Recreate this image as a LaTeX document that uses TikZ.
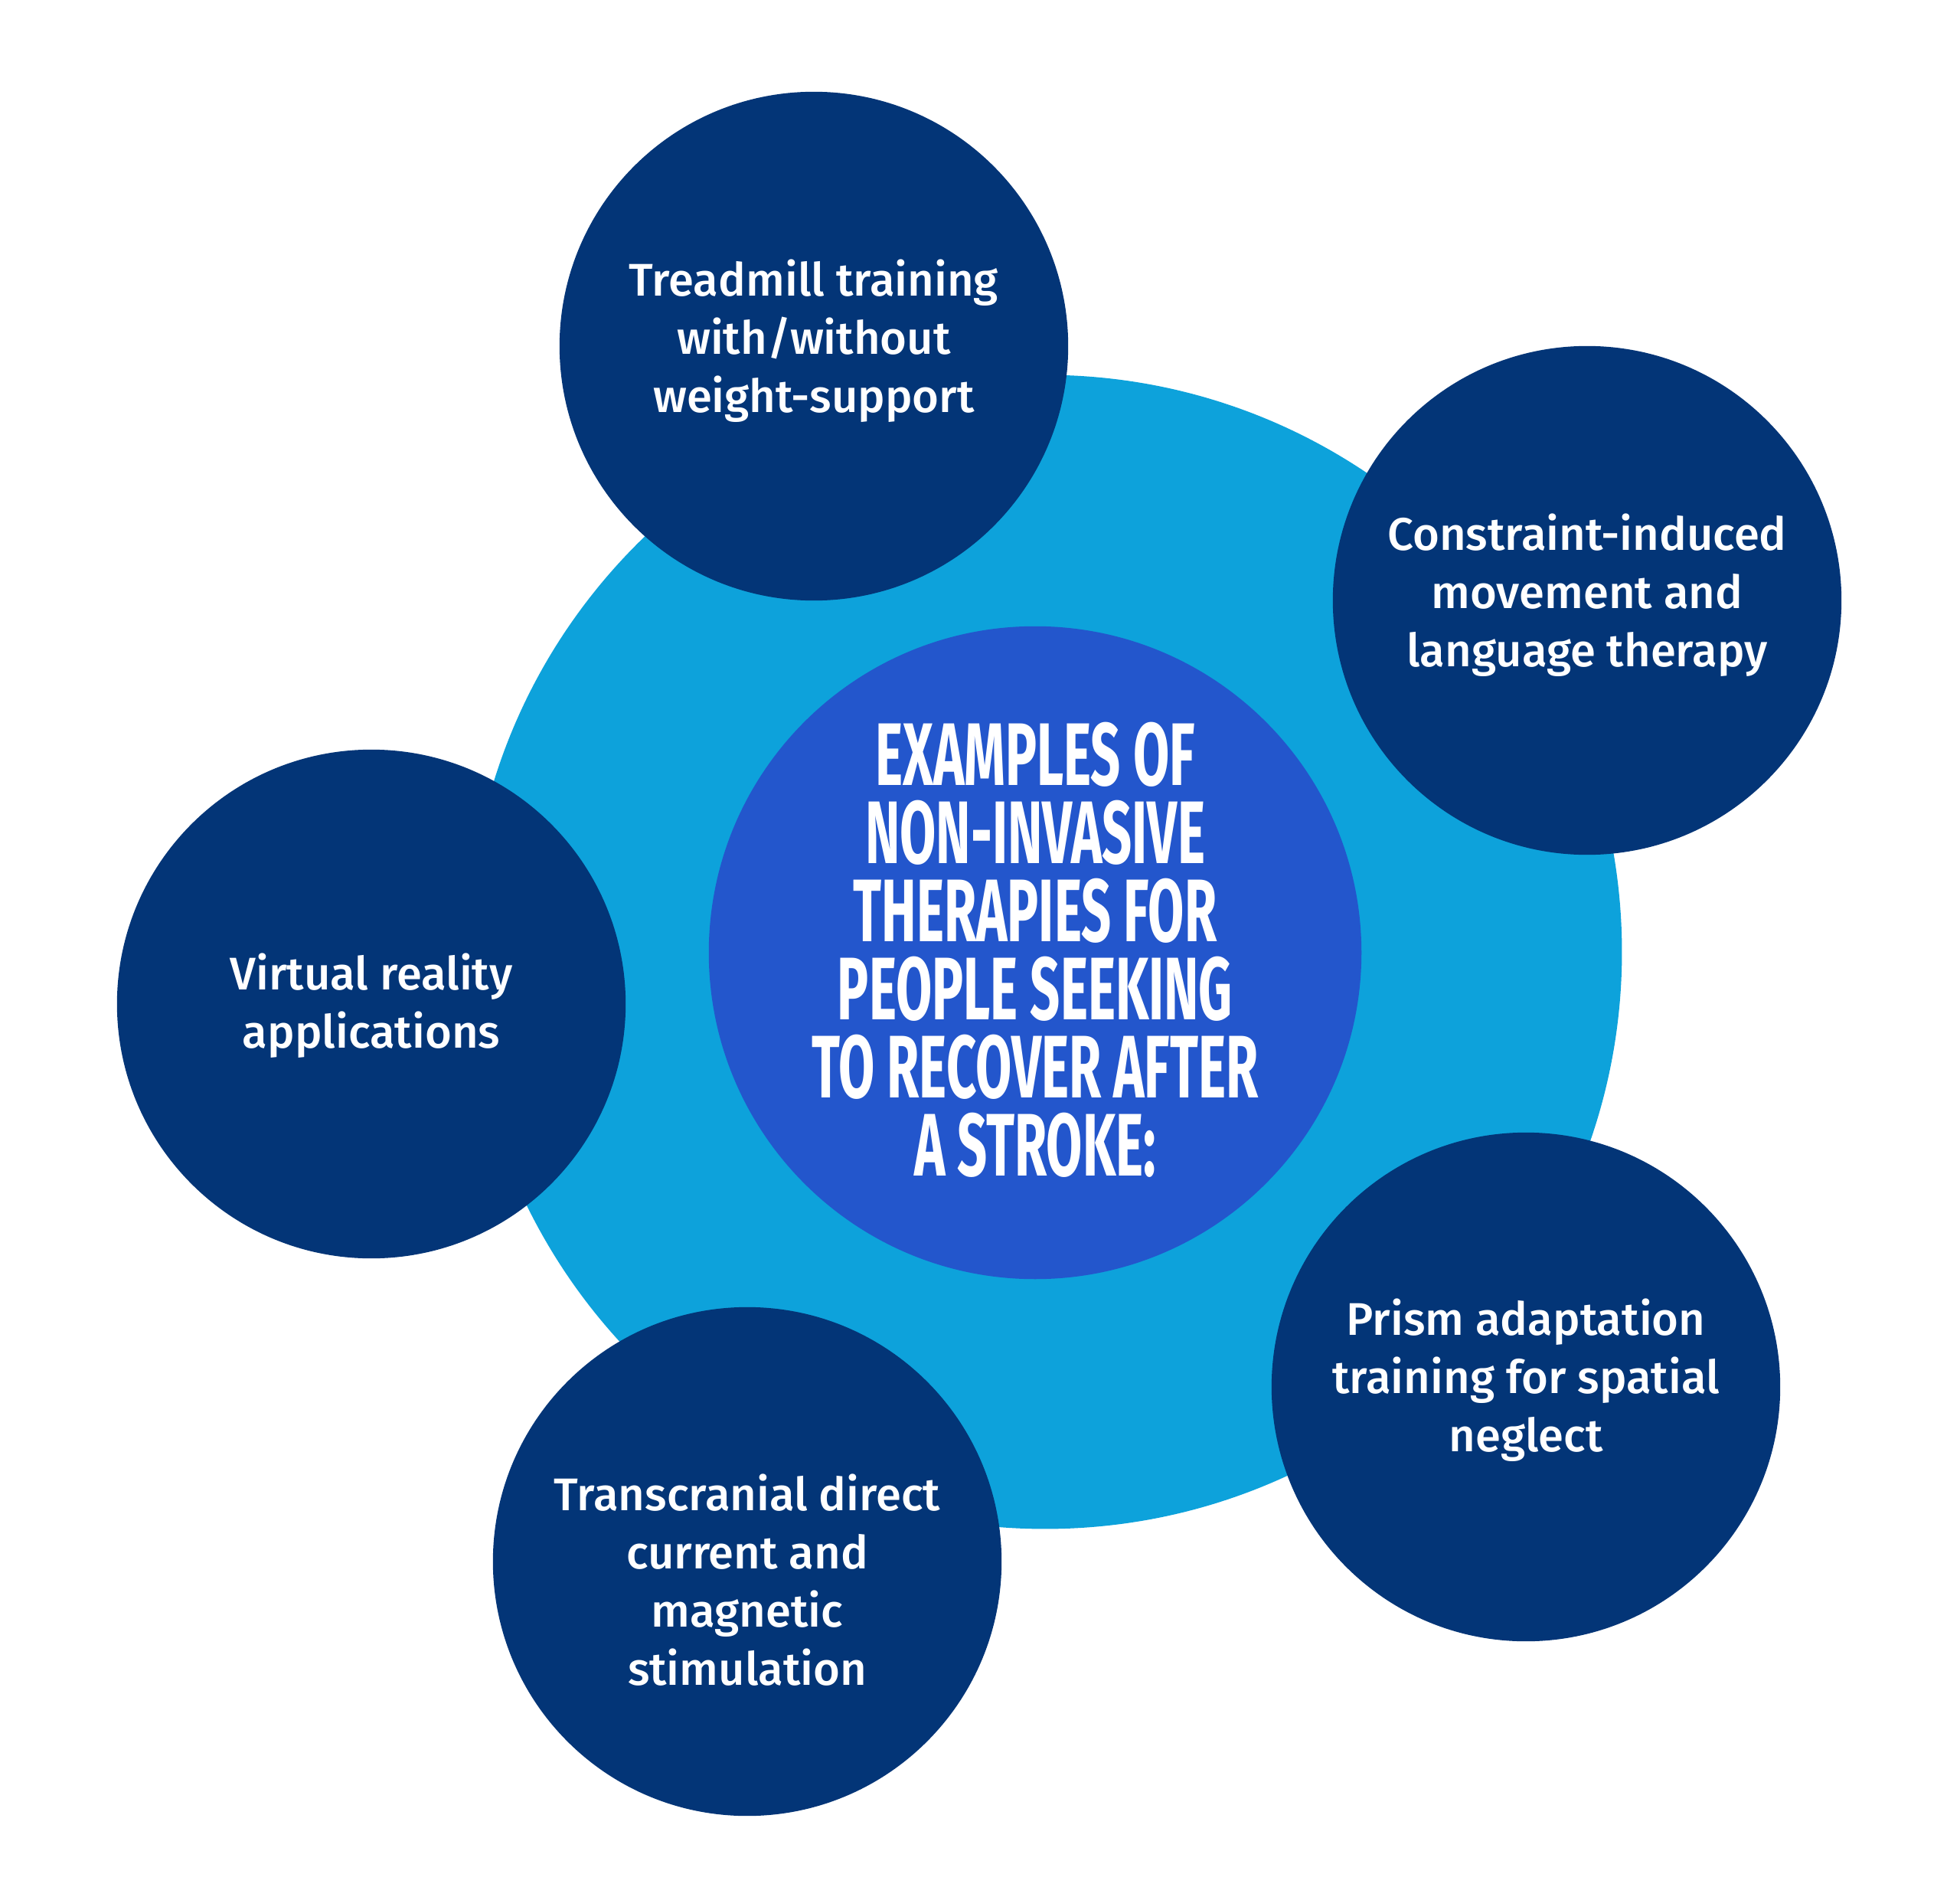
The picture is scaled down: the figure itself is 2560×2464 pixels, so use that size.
\documentclass[tikz,border=0pt]{standalone}
\usepackage{fontspec}
\newfontfamily\bodyfont[UprightFont=* Medium]{Fira Sans}
\newfontfamily\titlefont[FakeStretch=0.59]{Fira Sans Bold}
\definecolor{lightc}{HTML}{0DA2DB}
\definecolor{midc}{HTML}{2356CC}
\definecolor{darkc}{HTML}{033577}
\begin{document}
\begin{tikzpicture}[x=0.01cm,y=-0.01cm,
  disc/.style={circle,inner sep=0pt,outer sep=0pt},
  bigdisc/.style={disc,fill=lightc,minimum size=15.06cm},
  middisc/.style={disc,fill=midc,minimum size=8.52cm},
  smalldisc/.style={disc,fill=darkc,minimum size=6.64cm},
  label/.style={text=white,align=center,font=\bodyfont\fontsize{17}{21.6}\selectfont},
  title/.style={text=white,align=center,font=\titlefont\fontsize{33}{29}\selectfont}]
\useasboundingbox[fill=white] (0,0) rectangle (2560,2464);
\node[bigdisc] (big) at (1365,1243) {};
\node[middisc] (mid) at (1352,1244) {};
\node[smalldisc] (top) at (1063,452) {};
\node[smalldisc] (right) at (2073,784) {};
\node[smalldisc] (left) at (485,1311) {};
\node[smalldisc] (bl) at (976,2039) {};
\node[smalldisc] (br) at (1993,1811) {};
\node[title] (ttl) at (1352,1240) {EXAMPLES OF\\NON-INVASIVE\\THERAPIES FOR\\PEOPLE SEEKING\\TO RECOVER AFTER\\A STROKE:};
\node[label] (ttop) at (1063,445) {Treadmill training\\with/without\\weight-support};
\node[label] (tright) at (2073,777) {Constraint-induced\\movement and\\language therapy};
\node[label] (tleft) at (485,1313) {Virtual reality\\applications};
\node[label] (tbl) at (976,2063) {Transcranial direct\\current and\\magnetic\\stimulation};
\node[label] (tbr) at (1993,1802) {Prism adaptation\\training for spatial\\neglect};
\end{tikzpicture}
\end{document}
